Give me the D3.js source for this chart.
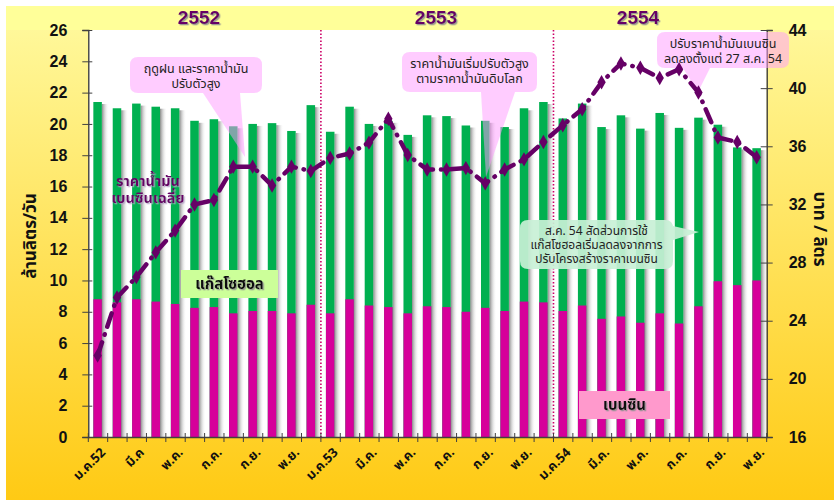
<!DOCTYPE html>
<html>
<head>
<meta charset="utf-8">
<script src="https://cdnjs.cloudflare.com/ajax/libs/d3/7.8.5/d3.min.js"></script>
<style>
  body { margin: 0; background: #fff; }
  svg text { font-family: Tahoma, "Noto Sans Thai", "Leelawadee UI", "DejaVu Sans", sans-serif; }
  .num { font-family: "Liberation Sans", Arial, sans-serif !important; font-weight: bold; }
</style>
</head>
<body>
<div id="chart"></div>
<script>
// months Jan 2552 .. Nov 2554
var monthLabels = ["ม.ค.52","ก.พ.","มี.ค","เม.ย.","พ.ค.","มิ.ย.","ก.ค.","ส.ค.","ก.ย.","ต.ค.","พ.ย.","ธ.ค.",
                   "ม.ค.53","ก.พ.","มี.ค.","เม.ย.","พ.ค.","มิ.ย.","ก.ค.","ส.ค.","ก.ย.","ต.ค.","พ.ย.","ธ.ค.",
                   "ม.ค.54","ก.พ.","มี.ค.","เม.ย.","พ.ค.","มิ.ย.","ก.ค.","ส.ค.","ก.ย.","ต.ค.","พ.ย."];

// total (gasohol + benzine), million litres/day
var totalUse = [21.4, 21.0, 21.3, 21.1, 21.0, 20.2, 20.3, 19.85, 20.0, 20.05, 19.55, 21.2,
                19.5, 21.1, 20.0, 20.2, 19.3, 20.55, 20.5, 19.9, 20.2, 19.8, 21.0, 21.4,
                20.35, 21.3, 19.8, 20.55, 19.7, 20.7, 19.75, 20.4, 19.95, 18.5, 18.45];

// benzine, million litres/day
var benzine = [8.8, 8.6, 8.8, 8.65, 8.5, 8.25, 8.3, 7.9, 8.05, 8.05, 7.9, 8.45,
               7.9, 8.8, 8.4, 8.3, 7.9, 8.35, 8.3, 8.0, 8.25, 8.05, 8.65, 8.6,
               8.05, 8.4, 7.55, 7.7, 7.3, 7.9, 7.25, 8.35, 9.95, 9.7, 10.0];

// average benzine price, baht/litre
var price = [21.6, 25.6, 27.0, 28.7, 30.2, 32.0, 32.3, 34.6, 34.6, 33.3, 34.6, 34.3,
             35.2, 35.5, 36.25, 37.9, 35.4, 34.4, 34.4, 34.5, 33.45, 34.4, 35.1, 36.3,
             37.45, 38.55, 40.4, 41.7, 41.4, 40.7, 41.3, 39.7, 36.6, 36.3, 35.25];

var years = ["2552", "2553", "2554"];
var leftTicks = [0, 2, 4, 6, 8, 10, 12, 14, 16, 18, 20, 22, 24, 26];
var rightTicks = [16, 20, 24, 28, 32, 36, 40, 44];

var W = 834, H = 500;
var svg = d3.select("#chart").append("svg").attr("width", W).attr("height", H);
var defs = svg.append("defs");

var bg = defs.append("linearGradient").attr("id", "bg").attr("x1", 0).attr("y1", 0).attr("x2", 0).attr("y2", 1);
bg.append("stop").attr("offset", "0%").attr("stop-color", "#fffaa0");
bg.append("stop").attr("offset", "100%").attr("stop-color", "#ffca14");

var sh = defs.append("linearGradient").attr("id", "shade").attr("x1", 0).attr("y1", 0).attr("x2", 1).attr("y2", 0);
sh.append("stop").attr("offset", "0%").attr("stop-color", "#8a8a8a");
sh.append("stop").attr("offset", "100%").attr("stop-color", "#ffffff").attr("stop-opacity", 0);

// text shadows
function shadowFilter(id, col, op) {
    defs.append("filter").attr("id", id).attr("x", "-10%").attr("y", "-20%").attr("width", "130%").attr("height", "150%")
        .append("feDropShadow").attr("dx", 1.3).attr("dy", 1.3).attr("stdDeviation", 0.4)
        .attr("flood-color", col).attr("flood-opacity", op);
}
shadowFilter("tsGray", "#909090", 0.9);
shadowFilter("tsLight", "#b8a0c8", 0.8);

svg.append("rect").attr("x", 6).attr("y", 6).attr("width", W - 6).attr("height", H - 6).attr("fill", "url(#bg)");
svg.append("rect").attr("x", 6).attr("y", 6).attr("width", W - 6).attr("height", 24).attr("fill", "#ffff99");

var pLeft = 88.3, pRight = 766.7, pTop = 30, pBottom = 437;

var x = d3.scaleBand().domain(d3.range(monthLabels.length)).range([pLeft, pRight]).padding(0);
var yL = d3.scaleLinear().domain([0, 26]).range([pBottom, pTop]);
var yR = d3.scaleLinear().domain([16, 44]).range([pBottom, pTop]);

var bw = x.bandwidth();
var barW = bw * 0.44, barOff = bw * 0.26;
var cx = function(i) { return x(i) + barOff + barW / 2; };

svg.append("rect").attr("x", pLeft).attr("y", pTop).attr("width", pRight - pLeft).attr("height", pBottom - pTop).attr("fill", "#fff");

// bar shadows
svg.append("g").selectAll("rect").data(totalUse).enter().append("rect")
    .attr("x", function(d, i) { return x(i) + barOff + barW; })
    .attr("y", function(d) { return yL(d) + 2; })
    .attr("width", bw * 0.36)
    .attr("height", function(d) { return pBottom - yL(d) - 2; })
    .attr("fill", "url(#shade)");

// gasohol (green, full height) and benzine (pink)
svg.append("g").selectAll("rect").data(totalUse).enter().append("rect")
    .attr("x", function(d, i) { return x(i) + barOff; })
    .attr("y", function(d) { return yL(d); })
    .attr("width", barW)
    .attr("height", function(d) { return pBottom - yL(d); })
    .attr("fill", "#00b050");

svg.append("g").selectAll("rect").data(benzine).enter().append("rect")
    .attr("x", function(d, i) { return x(i) + barOff; })
    .attr("y", function(d) { return yL(d); })
    .attr("width", barW)
    .attr("height", function(d) { return pBottom - yL(d); })
    .attr("fill", "#d6009a");

// year separators
[12, 24].forEach(function(i) {
    svg.append("line").attr("x1", x(i)).attr("x2", x(i)).attr("y1", pTop).attr("y2", pBottom)
        .attr("stroke", "#cc0066").attr("stroke-width", 1.6).attr("stroke-dasharray", "1.5,2");
});

// axes
var axL = svg.append("g").attr("transform", "translate(" + pLeft + ",0)")
    .call(d3.axisLeft(yL).tickValues(leftTicks).tickSize(6).tickPadding(15));
axL.selectAll(".tick line").attr("x2", -6).attr("x1", 4).attr("stroke", "#404040");
axL.select(".domain").attr("stroke", "#333").attr("stroke-width", 1.3);
axL.selectAll("text").attr("class", "num").style("font-size", "16px").attr("fill", "#111");

var axR = svg.append("g").attr("transform", "translate(" + pRight + ",0)")
    .call(d3.axisRight(yR).tickValues(rightTicks).tickSize(6).tickPadding(16));
axR.selectAll(".tick line").attr("x1", -6).attr("x2", 6).attr("stroke", "#404040");
axR.select(".domain").attr("stroke", "#333").attr("stroke-width", 1.3);
axR.selectAll("text").attr("class", "num").style("font-size", "16px").attr("fill", "#111");

var axB = svg.append("g").attr("transform", "translate(0," + pBottom + ")")
    .call(d3.axisBottom(x).tickSize(0).tickPadding(0).tickFormat(function(i) { return i % 2 === 0 ? monthLabels[i] : ""; }));
axB.select(".domain").attr("stroke", "#404040").attr("stroke-width", 1.3);
axB.selectAll("text")
    .attr("text-anchor", "end")
    .attr("transform", "translate(5,13) rotate(-45)")
    .attr("dy", "0.35em")
    .style("font-size", "13px").style("font-weight", "bold").attr("fill", "#111");
svg.append("g").selectAll("line").data(d3.range(monthLabels.length + 1)).enter().append("line")
    .attr("x1", function(i) { return i < monthLabels.length ? x(i) : pRight; })
    .attr("x2", function(i) { return i < monthLabels.length ? x(i) : pRight; })
    .attr("y1", pBottom - 4).attr("y2", pBottom + 5)
    .attr("stroke", "#404040");

// year labels
var yearX = [199, 436, 638];
years.forEach(function(y, k) {
    svg.append("text").attr("x", yearX[k]).attr("y", 24).attr("text-anchor", "middle")
        .attr("class", "num").style("font-size", "19px").attr("fill", "#660066")
        .attr("filter", "url(#tsGray)").text(y);
});

// axis titles
svg.append("text").attr("transform", "translate(36,236) rotate(-90)").attr("text-anchor", "middle")
    .style("font-size", "17px").style("font-weight", "bold").attr("fill", "#111").text("ล้านลิตร/วัน");
svg.append("text").attr("transform", "translate(814,229) rotate(90)").attr("text-anchor", "middle")
    .style("font-size", "17px").style("font-weight", "bold").attr("fill", "#111").text("บาท / ลิตร");

// callouts
function callout(box, tail, lines, fill, op, ty, lh, fs) {
    var g = svg.append("g");
    var p = "M" + (box[0] + 8) + "," + box[1] + " H" + (box[2] - 8) + " Q" + box[2] + "," + box[1] + " " + box[2] + "," + (box[1] + 8)
        + " V" + (box[3] - 8) + " Q" + box[2] + "," + box[3] + " " + (box[2] - 8) + "," + box[3]
        + " H" + (box[0] + 8) + " Q" + box[0] + "," + box[3] + " " + box[0] + "," + (box[3] - 8)
        + " V" + (box[1] + 8) + " Q" + box[0] + "," + box[1] + " " + (box[0] + 8) + "," + box[1] + "Z";
    g.append("path").attr("d", p).attr("fill", fill).attr("opacity", op);
    g.append("path").attr("d", "M" + tail.join(" L") + "Z").attr("fill", fill).attr("opacity", op);
    lines.forEach(function(t, i) {
        g.append("text").attr("x", (box[0] + box[2]) / 2).attr("y", ty + i * lh).attr("text-anchor", "middle")
            .style("font-size", (fs || 12.5) + "px").attr("fill", "#222").text(t);
    });
}
callout([130, 57, 262, 93], [[203, 93], [240, 93], [245, 157]], ["ฤดูฝน และราคาน้ำมัน", "ปรับตัวสูง"], "#ff99ff", 0.5, 73, 15);
callout([402, 52, 537, 92], [[481, 92], [515, 92], [486, 177]], ["ราคาน้ำมันเริ่มปรับตัวสูง", "ตามราคาน้ำมันดิบโลก"], "#ff99ff", 0.5, 68, 15);
callout([657, 32, 789, 68], [[683, 68], [710, 68], [698, 92]], ["ปรับราคาน้ำมันเบนซิน", "ลดลงตั้งแต่ 27 ส.ค. 54"], "#ff99ff", 0.5, 48, 15);
callout([520, 220, 673, 269], [[673, 226], [673, 240], [699, 232]], ["ส.ค. 54 สัดส่วนการใช้", "แก๊สโซฮอลเริ่มลดลงจากการ", "ปรับโครงสร้างราคาเบนซิน"], "#c8f0d6", 0.92, 235, 14, 12);

// price line
var line = d3.line().x(function(d, i) { return cx(i); }).y(function(d) { return yR(d); });
svg.append("path").datum(price).attr("d", line).attr("fill", "none")
    .attr("stroke", "#660066").attr("stroke-width", 4.5).attr("stroke-linecap", "round")
    .attr("stroke-dasharray", "14,8,0.5,8");
svg.append("g").selectAll("path").data(price).enter().append("path")
    .attr("d", d3.symbol().type(d3.symbolDiamond).size(60))
    .attr("transform", function(d, i) { return "translate(" + cx(i) + "," + yR(d) + ")"; })
    .attr("fill", "#660066");

// line label
svg.append("text").attr("x", 148).attr("y", 186).attr("text-anchor", "middle")
    .style("font-size", "14.5px").style("font-weight", "bold").attr("fill", "#660066")
    .attr("filter", "url(#tsLight)")
    .selectAll("tspan").data(["ราคาน้ำมัน", "เบนซินเฉลี่ย"]).enter().append("tspan")
    .attr("x", 148).attr("dy", function(d, i) { return i === 0 ? 0 : 17; }).text(function(d) { return d; });

// legend boxes
function legendBox(x0, y0, w, h, fill, t) {
    svg.append("rect").attr("x", x0).attr("y", y0).attr("width", w).attr("height", h).attr("fill", fill);
    svg.append("text").attr("x", x0 + w / 2).attr("y", y0 + h / 2 + 5).attr("text-anchor", "middle")
        .style("font-size", "15px").style("font-weight", "bold").attr("fill", "#111")
        .attr("filter", "url(#tsGray)").text(t);
}
legendBox(181, 270, 97, 28, "#ccff99", "แก๊สโซฮอล");
legendBox(579, 391, 91, 28, "#ff99cc", "เบนซิน");
</script>
</body>
</html>
